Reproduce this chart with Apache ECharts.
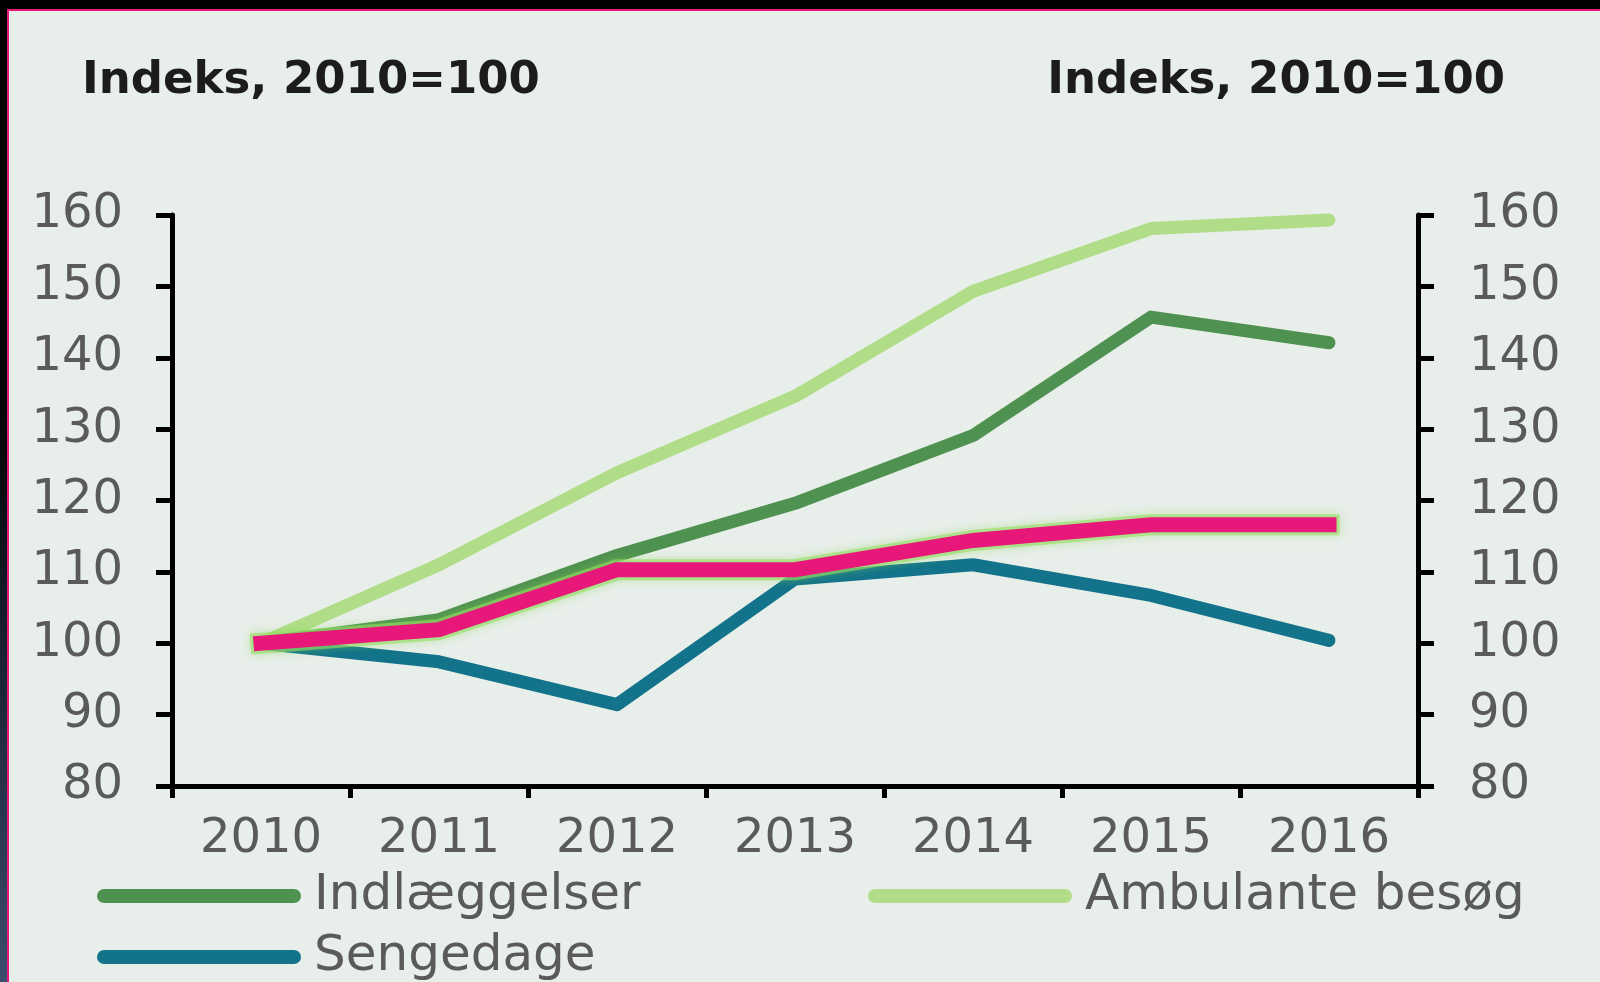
<!DOCTYPE html>
<html>
<head>
<meta charset="utf-8">
<script src="https://cdn.jsdelivr.net/npm/echarts@6/dist/echarts.min.js"></script>
<style>
  html, body { margin: 0; padding: 0; width: 1600px; height: 982px; overflow: hidden;
    background: linear-gradient(to bottom, #000 0%, #04060a 45%, #3b4c6d 100%); }
  #frame { position: absolute; left: 7px; top: 9px; right: 0; bottom: 0; background: #e8eee9;
    border-top: 2px solid #e8177a; border-left: 2px solid #e8177a; }
  #chart { position: absolute; left: 0; top: 0; width: 1600px; height: 982px; }
</style>
</head>
<body>
<div id="frame"></div>
<div id="chart"></div>
<script>
// Index values, 2010 = 100
const years = ['2010', '2011', '2012', '2013', '2014', '2015', '2016'];
const indlaeggelser = [100, 103.3, 112.3, 119.6, 129.1, 145.7, 142.1];
const ambulante = [100, 111.0, 123.9, 134.6, 149.3, 158.1, 159.3];
const sengedage = [100, 97.4, 91.4, 109.0, 111.0, 106.7, 100.4];
const highlight = [100, 101.9, 110.3, 110.3, 114.4, 116.6, 116.6];
const yTitle = 'Indeks, 2010=100';

const FONT = 'DejaVu Sans';
const LABEL_GREY = '#5a5a5a';
const CAPSULE = 'path://M7 0H197A7 7 0 0 1 197 14H7A7 7 0 0 1 7 0Z';

const chart = echarts.init(document.getElementById('chart'), null, { renderer: 'canvas' });

const axisLine = { show: true, lineStyle: { color: '#000', width: 5 } };
function yAxisFor(position, margin) {
  return {
    type: 'value', position: position, min: 80, max: 160, interval: 10,
    axisLine: axisLine,
    axisTick: { show: true, length: 16, lineStyle: { color: '#000', width: 5 } },
    axisLabel: { fontFamily: FONT, fontSize: 48, color: LABEL_GREY, margin: margin },
    splitLine: { show: false }
  };
}

function lineSeries(name, data, color) {
  return {
    name: name, type: 'line', data: data, symbol: 'none', smooth: false,
    itemStyle: { color: color },
    lineStyle: { color: color, width: 13, cap: 'round', join: 'round' },
    z: 2
  };
}

function legendFor(name, left, top) {
  return {
    data: [name], left: left, top: top, padding: 0, itemGap: 0,
    icon: CAPSULE, itemWidth: 204, itemHeight: 14,
    itemStyle: { borderWidth: 0 },
    selectedMode: false,
    textStyle: { fontFamily: FONT, fontSize: 50, color: LABEL_GREY, padding: [0, 0, 0, 8] }
  };
}

chart.setOption({
  animation: false,
  backgroundColor: 'transparent',
  grid: { left: 172, right: 182, top: 215, bottom: 196, containLabel: false },
  graphic: [
    { type: 'text', x: 82, y: 81, style: { text: yTitle, font: 'bold 45px "DejaVu Sans"', fill: '#1c1c1c', align: 'left', verticalAlign: 'middle' } },
    { type: 'text', x: 1505, y: 81, style: { text: yTitle, font: 'bold 45px "DejaVu Sans"', fill: '#1c1c1c', align: 'right', verticalAlign: 'middle' } }
  ],
  legend: [
    legendFor('Indlæggelser', 97, 871),
    legendFor('Sengedage', 97, 932),
    legendFor('Ambulante besøg', 868, 871)
  ],
  xAxis: {
    type: 'category', data: years, boundaryGap: true,
    axisLine: axisLine,
    axisTick: { show: true, interval: 0, length: 12, lineStyle: { color: '#000', width: 5 } },
    axisLabel: { fontFamily: FONT, fontSize: 48, color: LABEL_GREY, margin: 30, interval: 0 },
    splitLine: { show: false }
  },
  yAxis: [yAxisFor('left', 49), yAxisFor('right', 51)],
  series: [
    lineSeries('Ambulante besøg', ambulante, '#b1dd88'),
    lineSeries('Indlæggelser', indlaeggelser, '#4f9150'),
    lineSeries('Sengedage', sengedage, '#12738a'),
    {
      // soft green halo underneath the magenta line
      name: 'halo', type: 'line', data: highlight, symbol: 'none', smooth: false,
      lineStyle: { color: 'rgba(150,222,100,0.6)', width: 21, cap: 'square', join: 'miter',
        shadowColor: 'rgba(130,215,80,0.7)', shadowBlur: 9 },
      itemStyle: { color: 'rgba(150,222,100,0.6)' },
      z: 3
    },
    {
      name: 'highlight', type: 'line', data: highlight, symbol: 'none', smooth: false,
      itemStyle: { color: '#e8177a' },
      lineStyle: { color: '#e8177a', width: 15, cap: 'square', join: 'miter' },
      z: 4
    }
  ]
});
</script>
</body>
</html>
